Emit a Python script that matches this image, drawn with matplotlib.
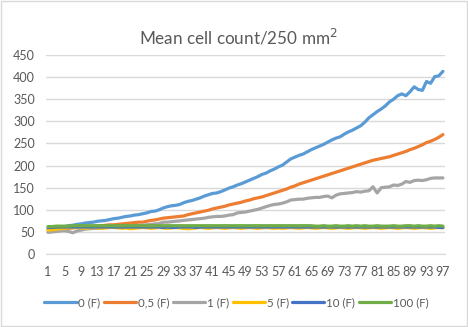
import matplotlib
matplotlib.use("Agg")
import matplotlib.pyplot as plt
from matplotlib.patches import Rectangle

days = list(range(1, 98))
xtick_labels = list(range(1, 98, 4))

series_names = ["0 (F)", "0,5 (F)", "1 (F)", "5 (F)", "10 (F)", "100 (F)"]
series_colors = ["#5B9BD5", "#ED7D31", "#A5A5A5", "#FFC000", "#4472C4", "#70AD47"]

f0 = [57, 58, 60, 61, 62, 64, 65, 67, 68, 70,
      71, 72, 74, 75, 76, 78, 80, 81, 83, 85,
      86, 88, 89, 91, 93, 96, 97, 100, 104, 107,
      109, 110, 112, 116, 119, 121, 124, 127, 131, 134,
      137, 138, 141, 145, 149, 152, 156, 159, 163, 167,
      171, 175, 180, 183, 188, 192, 197, 201, 208, 215,
      219, 223, 226, 231, 236, 240, 244, 248, 253, 258,
      262, 265, 271, 276, 280, 285, 290, 298, 308, 315,
      322, 328, 335, 344, 350, 358, 362, 358, 367, 378,
      372, 370, 390, 386, 401, 403, 413]

f05 = [54, 55, 56, 57, 58, 58, 59, 60, 60, 61,
       62, 63, 63, 64, 65, 66, 66, 67, 68, 69,
       70, 71, 72, 72, 74, 76, 77, 79, 81, 82,
       83, 84, 85, 86, 89, 91, 93, 95, 97, 99,
       102, 104, 106, 108, 111, 113, 115, 117, 120, 122,
       125, 127, 129, 132, 135, 138, 141, 144, 147, 151,
       154, 158, 161, 164, 167, 170, 173, 176, 179, 182,
       185, 188, 191, 194, 197, 200, 203, 206, 209, 212,
       214, 216, 218, 220, 223, 226, 229, 232, 236, 239,
       243, 247, 252, 255, 259, 264, 270]

f1 = [49, 50, 51, 52, 53, 51, 48, 52, 54, 56,
      57, 58, 58, 59, 60, 60, 61, 61, 62, 63,
      63, 64, 64, 65, 66, 67, 68, 69, 72, 72,
      73, 74, 75, 76, 77, 78, 79, 80, 81, 83,
      84, 85, 85, 86, 88, 89, 93, 94, 95, 97,
      99, 101, 104, 107, 110, 112, 113, 115, 118, 122,
      123, 124, 124, 126, 127, 128, 128, 130, 131, 127,
      133, 136, 137, 138, 139, 141, 140, 142, 143, 152,
      138, 150, 151, 152, 156, 155, 158, 164, 162, 166,
      167, 166, 168, 171, 172, 172, 172]

f5 = [54, 55, 56, 57, 58, 59, 60, 60, 59, 58,
      59, 60, 59, 58, 59, 60, 60, 59, 58, 59,
      57, 58, 59, 60, 59, 58, 59, 60, 59, 58,
      59, 60, 59, 58, 57, 58, 59, 60, 59, 58,
      59, 60, 59, 58, 59, 60, 59, 58, 59, 60,
      59, 58, 59, 60, 59, 58, 59, 58, 59, 60,
      59, 58, 59, 60, 59, 58, 59, 60, 59, 58,
      59, 60, 59, 58, 59, 60, 59, 58, 59, 60,
      59, 58, 59, 60, 59, 58, 59, 60, 59, 58,
      59, 60, 59, 58, 59, 60, 59]

f10 = [60, 60, 61, 61, 61, 61, 61, 61, 61, 61,
       61, 61, 61, 61, 61, 61, 61, 61, 61, 61,
       61, 61, 61, 61, 61, 61, 61, 61, 60, 61,
       60, 60, 61, 61, 61, 61, 60, 61, 61, 61,
       61, 61, 61, 61, 61, 61, 61, 61, 61, 61,
       61, 61, 61, 61, 61, 61, 61, 61, 61, 61,
       61, 61, 61, 61, 61, 61, 61, 61, 61, 61,
       61, 61, 61, 61, 61, 61, 61, 61, 61, 61,
       61, 61, 61, 61, 61, 61, 61, 61, 61, 61,
       61, 61, 61, 61, 61, 60, 60]

f100 = [62, 62, 63, 63, 63, 63, 64, 64, 64, 64,
        64, 64, 64, 64, 64, 64, 64, 64, 64, 64,
        64, 64, 64, 64, 64, 64, 64, 64, 64, 64,
        64, 64, 64, 64, 64, 64, 64, 64, 64, 64,
        64, 64, 64, 64, 64, 64, 64, 64, 64, 64,
        64, 64, 64, 64, 64, 64, 64, 64, 64, 64,
        64, 64, 64, 64, 64, 63, 63, 64, 63, 63,
        64, 63, 63, 64, 63, 64, 63, 64, 63, 63,
        64, 63, 63, 63, 64, 63, 63, 64, 64, 63,
        64, 63, 63, 64, 63, 64, 63]

all_series = [f0, f05, f1, f5, f10, f100]

plt.rcParams['font.family'] = ['Lato', 'DejaVu Sans']

fig = plt.figure(figsize=(4.68, 3.27), dpi=100)
fig.patches.append(Rectangle((0.002, 0.003), 0.995, 0.994, transform=fig.transFigure,
                             fill=False, edgecolor='#D9D9D9', linewidth=1))

ax = fig.add_axes([46 / 468, 1 - 254 / 327, 399 / 468, 199 / 327])

for vals, name, col in zip(all_series, series_names, series_colors):
    ax.plot(days, vals, color=col, linewidth=2.3, label=name, solid_capstyle='round')

ax.set_ylim(0, 450)
ax.set_xlim(0.5, 97.5)
ax.set_yticks(range(0, 451, 50))
ax.set_xticks(xtick_labels)
ax.set_xticklabels([str(v) for v in xtick_labels])
ax.grid(axis='y', color='#D9D9D9', linewidth=1)
ax.set_axisbelow(True)
for s in ['top', 'right', 'left']:
    ax.spines[s].set_visible(False)
ax.spines['bottom'].set_color('#D9D9D9')
ax.tick_params(length=0, colors='#595959', labelsize=9)
ax.tick_params(axis='x', pad=9)
ax.tick_params(axis='y', pad=8)

fig.text(0.51, 1 - 37 / 327, "Mean cell count/250 mm$^2$", ha='center', va='center',
         fontsize=12.3, color='#595959')

fig.legend(loc='center', bbox_to_anchor=(0.505, 1 - 303 / 327), ncol=6, frameon=False,
           fontsize=8.3, handlelength=2.8, handletextpad=0.15, columnspacing=0.3,
           labelcolor='#595959')

fig.savefig("out.png", dpi=100)
